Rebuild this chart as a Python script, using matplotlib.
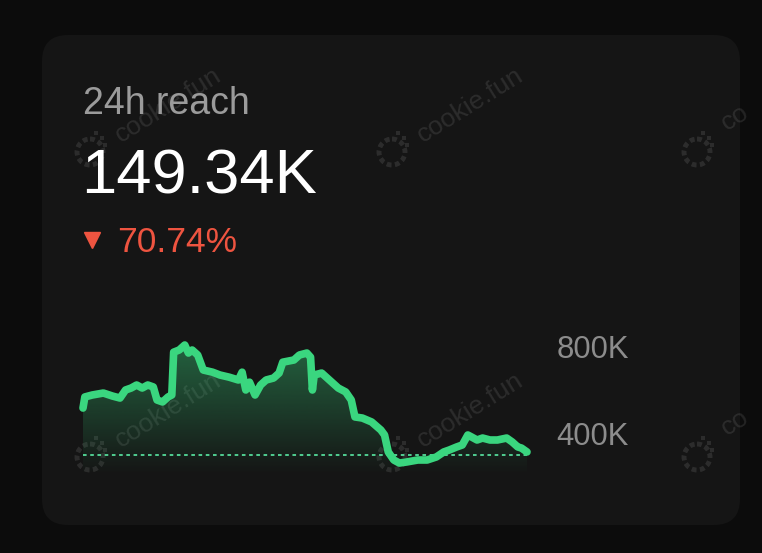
import matplotlib
matplotlib.use('Agg')

import numpy as np
import matplotlib.pyplot as plt
from matplotlib.patches import FancyBboxPatch, Circle
from matplotlib.colors import to_rgb

plt.rcParams['font.family'] = ['Liberation Sans', 'DejaVu Sans']

# 24h reach, thousands
hours = [0, 0.1, 0.5, 1.1, 1.6, 2.0, 2.3, 2.6, 2.9, 3.2, 3.5, 3.8, 4.0, 4.3, 4.6,
         4.8, 4.9, 5.2, 5.5, 5.7, 5.9, 6.2, 6.5, 7.0, 7.4, 7.9, 8.4, 8.6, 8.8, 9.0,
         9.3, 9.6, 9.9, 10.3, 10.6, 10.8, 11.4, 11.7, 12.1, 12.3, 12.4, 12.5, 12.9,
         13.2, 13.5, 13.8, 14.2, 14.5, 14.7, 15.1, 15.6, 16.1, 16.3, 16.5, 16.8,
         17.1, 17.5, 18.1, 18.6, 19.1, 19.5, 19.8, 20.2, 20.5, 20.8, 21.0, 21.3,
         21.6, 22.0, 22.4, 22.9, 23.2, 23.5, 23.7, 24.0]
reach_k = [515, 566, 575, 584, 570, 561, 598, 607, 621, 607, 621, 612, 552, 543, 566,
           575, 772, 782, 805, 768, 782, 759, 690, 680, 667, 657, 644, 680, 598, 634,
           575, 621, 644, 653, 676, 726, 736, 759, 768, 749, 598, 667, 676, 653, 630,
           607, 589, 552, 474, 469, 451, 414, 391, 313, 276, 262, 267, 276, 276, 290,
           313, 322, 336, 345, 391, 382, 368, 377, 368, 368, 377, 359, 336, 331, 313]
baseline_k = 299
yticks = [400, 800]
ytick_labels = ['400K', '800K']

title = '24h reach'
value_text = '149.34K'
change_text = '70.74%'
watermark = 'cookie.fun'

W, H = 762, 553
GREEN = '#3ad67f'
RED = '#ee5440'

fig = plt.figure(figsize=(W/100, H/100), dpi=100)
fig.patch.set_facecolor('#0c0c0c')

# background axes in pixel units (y down)
bg = fig.add_axes([0, 0, 1, 1])
bg.set_xlim(0, W)
bg.set_ylim(H, 0)
bg.axis('off')
card = FancyBboxPatch((42, 35), 698, 490, boxstyle='round,pad=0,rounding_size=26',
                      facecolor='#151515', edgecolor='none')
bg.add_patch(card)

# watermarks, clipped to the card; the right column only shows its first letters
for cx, cy in [(168, 105), (470, 105), (775, 105), (168, 410), (470, 410), (775, 410)]:
    if cx > 700:
        t = bg.text(cx - 52, cy + 20, watermark[:2], color='white', alpha=0.1,
                    fontsize=19, rotation=32, ha='left', va='center',
                    rotation_mode='anchor', zorder=1)
    else:
        t = bg.text(cx, cy, watermark, color='white', alpha=0.1, fontsize=19,
                    rotation=32, ha='center', va='center', rotation_mode='anchor',
                    zorder=1)
    t.set_clip_path(card)
    c = Circle((cx - 78, cy + 47), 13, fill=False, edgecolor='white',
               alpha=0.1, lw=3.5, linestyle=(0, (1.0, 0.7)), zorder=1)
    bg.add_patch(c)
    c.set_clip_path(card)
    dots = bg.scatter([cx - 72, cx - 66, cx - 63], [cy + 28, cy + 33, cy + 40], s=12,
                      color='white', alpha=0.1, marker='s', linewidths=0, zorder=1)
    dots.set_clip_path(card)

bg.text(83, 114, title, color='#9b9b9b', fontsize=27, va='baseline', ha='left')
bg.text(81, 193, value_text, color='white', fontsize=45.5, va='baseline', ha='left')
bg.text(117, 252, change_text, color=RED, fontsize=25.5, va='baseline', ha='left')
bg.plot([92], [240], marker='v', color=RED, markersize=11, linestyle='none')

# chart
ax = fig.add_axes([83/W, (H-475)/H, 444/W, 135/H])
ax.patch.set_visible(False)
ax.set_xlim(0, 24)
ax.set_ylim(207, 828)
for s in ax.spines.values():
    s.set_visible(False)
ax.set_xticks([])
ax.yaxis.tick_right()
ax.set_yticks(yticks)
ax.set_yticklabels(ytick_labels)
ax.tick_params(axis='y', length=0, pad=21, labelsize=22.3, labelcolor='#8c8c8c')

poly = ax.fill_between(hours, reach_k, 207, color='none')
r, g, b = to_rgb(GREEN)
grad = np.zeros((256, 1, 4))
grad[:, 0, 0] = r
grad[:, 0, 1] = g
grad[:, 0, 2] = b
grad[:, 0, 3] = np.linspace(0.0, 0.42, 256)
im = ax.imshow(grad, extent=[0, 24, 207, 828], origin='lower', aspect='auto', zorder=2)
im.set_clip_path(poly.get_paths()[0], transform=ax.transData)

ax.axhline(baseline_k, color='#55dc9a', lw=1.3, linestyle=(0, (2, 2)), zorder=3)
ax.plot(hours, reach_k, color=GREEN, lw=5.5, solid_joinstyle='round',
        solid_capstyle='round', zorder=4, clip_on=False)

fig.savefig('out.png', dpi=100, facecolor=fig.get_facecolor())
